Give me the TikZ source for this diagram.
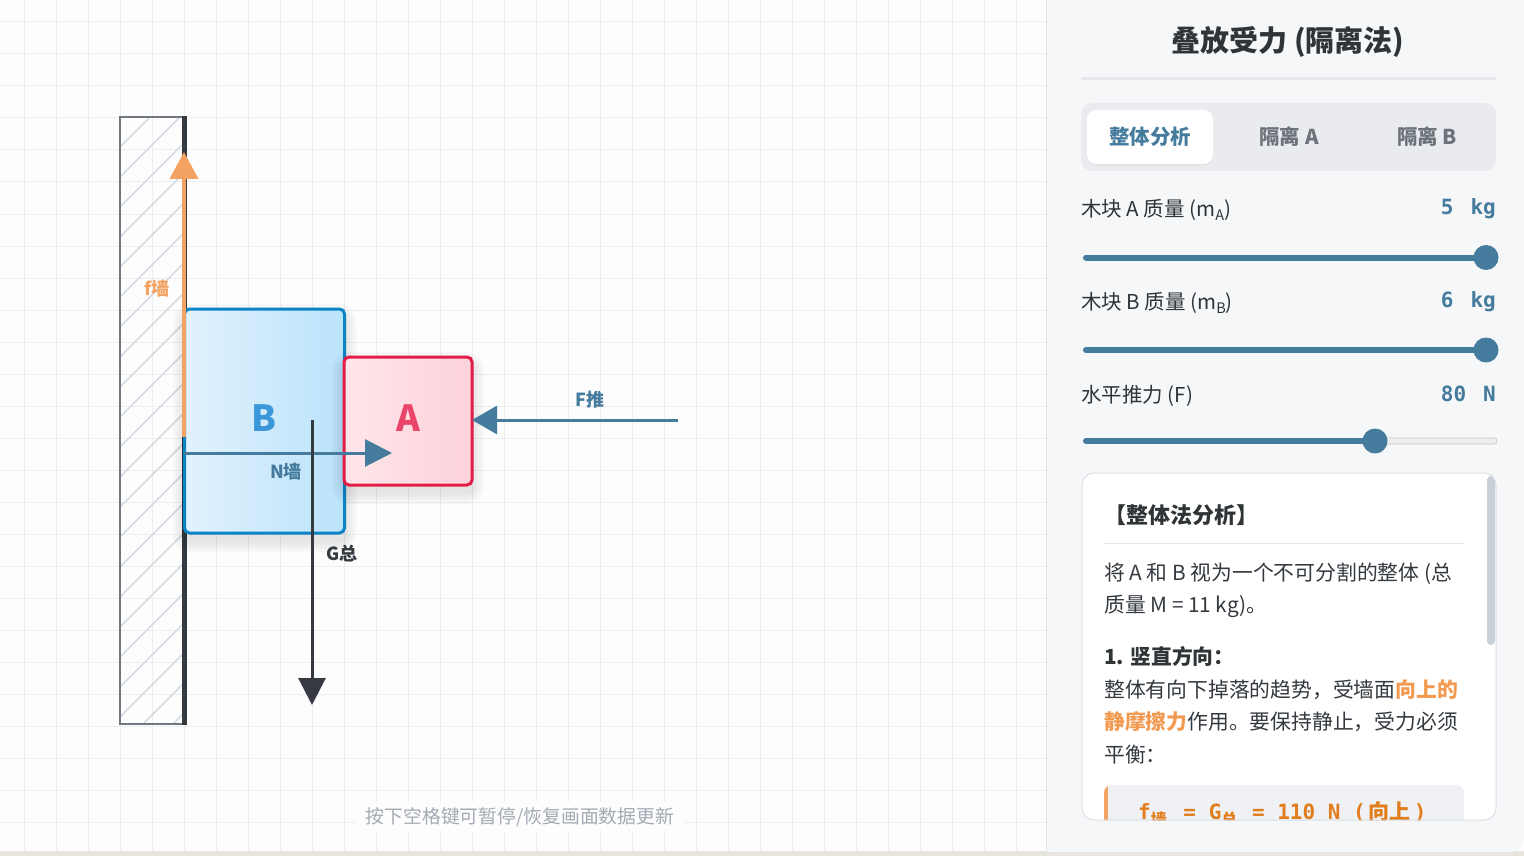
\documentclass[tikz,border=0pt]{standalone}
\usepackage{fontspec}
\setmainfont{Noto Sans CJK SC}
\newfontfamily\monof{DejaVu Sans Mono}
\usetikzlibrary{arrows.meta}
\newcommand\fsz[1]{\fontsize{#1}{#1}\selectfont}
\definecolor{canvasbg}{HTML}{FDFDFD}
\definecolor{gridc}{HTML}{EDEEF0}
\definecolor{hatchc}{HTML}{CDD3DB}
\definecolor{wallc}{HTML}{71777F}
\definecolor{darkc}{HTML}{343A40}
\definecolor{orng}{HTML}{F4A261}
\definecolor{orngtxt}{HTML}{F29A50}
\definecolor{steel}{HTML}{457B9D}
\definecolor{Bborder}{HTML}{0B84C6}
\definecolor{BfillL}{HTML}{E2F2FD}
\definecolor{BfillR}{HTML}{BAE3FB}
\definecolor{Btext}{HTML}{3A97D8}
\definecolor{Aborder}{HTML}{E11D48}
\definecolor{AfillL}{HTML}{FFE6EA}
\definecolor{AfillR}{HTML}{FDD2DA}
\definecolor{Atext}{HTML}{E9456A}
\definecolor{footc}{HTML}{A3AAB4}
\definecolor{panelbg}{HTML}{F6F7F9}
\definecolor{panelline}{HTML}{E3E5E8}
\definecolor{bandc}{HTML}{E8E5E1}
\definecolor{ink}{HTML}{2F3437}
\definecolor{para}{HTML}{33393F}
\definecolor{tabbg}{HTML}{E9EBEE}
\definecolor{tabgray}{HTML}{6C737B}
\definecolor{sepc}{HTML}{E6E8EB}
\definecolor{cardline}{HTML}{DCDFE4}
\definecolor{scrollc}{HTML}{C9CFD7}
\definecolor{trackc}{HTML}{EEEEEE}
\definecolor{trackline}{HTML}{C8C8C8}
\definecolor{fboxbg}{HTML}{EFF1F4}
\definecolor{fcol}{HTML}{E27D1E}
\begin{document}
\begin{tikzpicture}[x=1pt,y=-1pt,
  gridline/.style={draw=gridc,line width=1pt},
  hatch/.style={draw=hatchc,line width=1.2pt},
  wallout/.style={draw=wallc,line width=2.6pt},
  walledge/.style={draw=darkc,line width=5pt},
  shadowlayer/.style={fill=black,opacity=0.022},
  block/.style={draw,line width=3pt,rounded corners=5pt,outer sep=0pt},
  blockB/.style={block,draw=Bborder,left color=BfillL,right color=BfillR,minimum width=160pt,minimum height=224pt},
  blockA/.style={block,draw=Aborder,left color=AfillL,right color=AfillR,minimum width=128pt,minimum height=128pt},
  fwall/.style={draw=orng,line width=4pt,-{Triangle[length=27pt,width=28pt]}},
  push/.style={draw=steel,line width=3pt,-{Triangle[length=25pt,width=28pt]}},
  normal/.style={draw=steel,line width=3pt,-{Triangle[length=27pt,width=27pt]}},
  weight/.style={draw=darkc,line width=3pt,-{Triangle[length=27pt,width=27pt]}},
  lbl/.style={inner sep=0pt,font=\bfseries\fsz{18}},
  bigl/.style={inner sep=0pt,font=\bfseries\fsz{36}},
  lab/.style={inner sep=0pt,anchor=west,text=ink,font=\fsz{20.5}},
  val/.style={inner sep=0pt,anchor=east,text=steel,font=\monof\bfseries\fsz{21}},
  tabt/.style={inner sep=0pt,text=tabgray,font=\bfseries\fsz{20.5}},
  para/.style={inner sep=0pt,anchor=west,text=para,font=\fsz{20.8}},
  track/.style={draw=steel,line width=6pt,line cap=round},
  thumb/.style={fill=steel}
]
\useasboundingbox (0,0) rectangle (1524,856);
% ---------- canvas ----------
\fill[canvasbg] (0,0) rectangle (1524,856);
\foreach \x in {24,56,...,1016} \draw[gridline] (\x,0) -- (\x,852);
\foreach \y in {22,54,...,838} \draw[gridline] (0,\y) -- (1046,\y);
\node[fill=canvasbg,inner xsep=10pt,inner ysep=5pt,text=footc,font=\fsz{18.8}] (note) at (520,817) {按下空格键可暂停/恢复画面数据更新};
% ---------- wall ----------
\begin{scope}
  \clip (120,117) rectangle (184,724);
  \foreach \c in {117,147,...,817} \draw[hatch] (120,\c) -- (184,\c-64);
\end{scope}
\draw[wallout] (184,117) -- (120,117) -- (120,724) -- (184,724);
\draw[walledge] (184,115.7) -- (184,725.3);
% ---------- blocks ----------
\foreach \s in {3,6,9,12}
  \fill[shadowlayer,rounded corners=6pt+\s pt] (184.5-\s,309-\s+7) rectangle (344.5+\s,533+\s+7);
\node[blockB] (B) at (264.5,421) {};
\foreach \s in {3,6,9,12}
  \fill[shadowlayer,rounded corners=6pt+\s pt] (344-\s,357-\s+7) rectangle (472+\s,485+\s+7);
\node[blockA] (A) at (408,421) {};
\node[bigl,text=Btext] (Blbl) at (264,418) {B};
\node[bigl,text=Atext] (Albl) at (408,418) {A};
% ---------- forces ----------
\coordinate (fbot) at (184,437);
\coordinate (ftop) at (184,152);
\draw[fwall] (fbot) -- (ftop);
\node[lbl,text=orng] (flbl) at (157,289) {f墙};
\coordinate (Fstart) at (678,420);
\draw[push] (Fstart) -- (Fstart -| A.east);
\node[lbl,text=steel] (Flbl) at (590,400) {F推};
\coordinate (Nstart) at (184,453);
\coordinate (Nend) at (392,453);
\draw[normal] (Nstart) -- (Nend);
\node[lbl,text=steel] (Nlbl) at (286,472) {N墙};
\coordinate (Gtop) at (312,420);
\coordinate (Gend) at (312,705);
\draw[weight] (Gtop) -- (Gend);
\node[lbl,text=darkc] (Glbl) at (342,554) {G总};
% ---------- panel ----------
\fill[bandc] (0,851) rectangle (1524,856);
\fill[panelbg,rounded corners=14pt] (1046,-30) rectangle (1524,852);
\fill[panelbg] (1046,0) rectangle (1100,852);
\draw[panelline,line width=1pt] (1046,0) -- (1046,852);
\node[inner sep=0pt,text=ink,font=\bfseries\fsz{29}] (title) at (1288,42) {叠放受力 (隔离法)};
\draw[sepc,line width=3pt] (1081,79) -- (1496,79);
\fill[tabbg,rounded corners=11pt] (1081,103) rectangle (1496,171);
\fill[black,opacity=0.04,rounded corners=9pt] (1087,111.5) rectangle (1213,165.5);
\node[fill=white,rounded corners=9pt,minimum width=126pt,minimum height=54pt,inner sep=0pt,
  text=steel,font=\bfseries\fsz{20.5}] (tab1) at (1150,137) {整体分析};
\node[tabt] (tab2) at (1289,137) {隔离 A};
\node[tabt] (tab3) at (1427,137) {隔离 B};
% sliders
\node[lab] (l1) at (1081,210) {木块 A 质量 (m\raisebox{-3.5pt}{\fsz{14.5}A})};
\node[val] (v1) at (1496,209) {5\hspace{17pt}kg};
\draw[track] (1086,257.5) -- (1486,257.5);
\fill[thumb] (1486,257.5) circle (12.5);
\node[lab] (l2) at (1081,303) {木块 B 质量 (m\raisebox{-3.5pt}{\fsz{14.5}B})};
\node[val] (v2) at (1496,302) {6\hspace{17pt}kg};
\draw[track] (1086,350) -- (1486,350);
\fill[thumb] (1486,350) circle (12.5);
\node[lab] (l3) at (1081,396) {水平推力 (F)};
\node[val] (v3) at (1496,394) {80\hspace{17pt}N};
\draw[fill=trackc,draw=trackline,line width=0.8pt,rounded corners=3pt] (1372,438) rectangle (1497,444);
\draw[track] (1086,441) -- (1375,441);
\fill[thumb] (1375,441) circle (12.5);
% card
\fill[white,rounded corners=12pt] (1082,473) rectangle (1496,820);
\begin{scope}
  \clip[rounded corners=12pt] (1082,473) rectangle (1496,820);
  \node[inner sep=0pt,anchor=west,text=ink,font=\bfseries\fsz{22}] (ch) at (1104,515) {【整体法分析】};
  \draw[sepc,line width=1pt] (1104,543) -- (1464,543);
  \node[para] (p1) at (1104,574) {将 A 和 B 视为一个不可分割的整体 (总};
  \node[para] (p2) at (1104,606) {质量 M = 11 kg)。};
  \node[para,font=\bfseries\fsz{20.8},text=ink] (p3) at (1104,656) {1. 竖直方向：};
  \node[para] (p4) at (1104,690) {整体有向下掉落的趋势，受墙面\textcolor{orngtxt}{\bfseries 向上的}};
  \node[para] (p5) at (1104,722) {\textcolor{orngtxt}{\bfseries 静摩擦力}作用。要保持静止，受力必须};
  \node[para] (p6) at (1104,755) {平衡：};
  \begin{scope}
    \clip[rounded corners=8pt] (1104,785) rectangle (1464,860);
    \fill[fboxbg] (1104,785) rectangle (1464,860);
    \fill[orng] (1104,785) rectangle (1107.5,860);
  \end{scope}
  \node[inner sep=0pt,anchor=base west,text=fcol,font=\monof\bfseries\fsz{21}] (fm) at (1138,819)
    {f\raisebox{-6pt}{\rmfamily\bfseries\fsz{16}墙}\hspace{4pt}\ =\ G\raisebox{-6pt}{\rmfamily\bfseries\fsz{16}总}\hspace{2pt}\ =\ 110\ N\ ({\rmfamily\bfseries\hspace{3pt}向上\hspace{3pt}})};
  \fill[scrollc,rounded corners=4pt] (1487,476) rectangle (1495,645);
\end{scope}
\draw[cardline,line width=1pt,rounded corners=12pt] (1082,473) rectangle (1496,820);
\end{tikzpicture}
\end{document}
